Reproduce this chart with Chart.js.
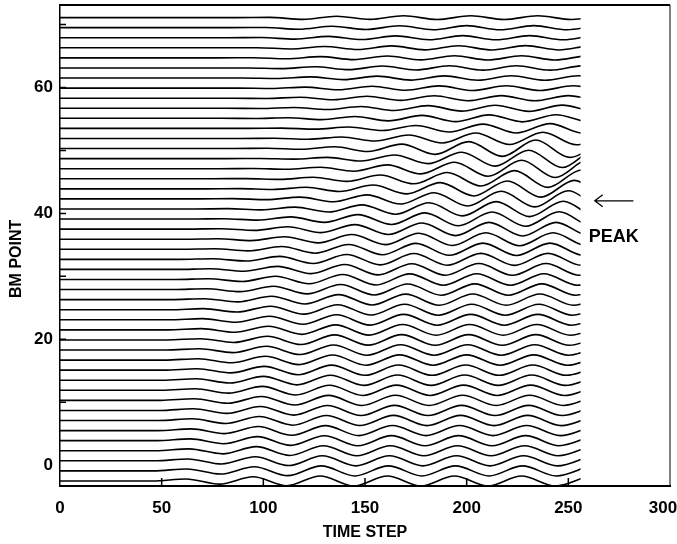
<!DOCTYPE html>
<html>
<head>
<meta charset="utf-8">
<script src="https://cdn.jsdelivr.net/npm/chart.js@4/dist/chart.umd.min.js"></script>
<style>
  html, body { margin: 0; padding: 0; background: #fff; }
  #wrap { width: 677px; height: 544px; }
</style>
</head>
<body>
<div id="wrap"><canvas id="bmChart" width="677" height="544"></canvas></div>
<script>
// BM point (resting offset) of each trace, bottom to top
var bmPoints = [-2.5, -0.9, 0.7, 2.3, 3.9, 5.5, 7.1, 8.7, 10.3, 11.9, 13.5, 15.1, 16.7, 18.3, 19.9, 21.5,
  23.1, 24.7, 26.3, 27.9, 29.5, 31.1, 32.7, 34.3, 35.9, 37.5, 39.1, 40.7, 42.3, 43.9, 45.5, 47.1,
  48.7, 50.3, 51.9, 53.5, 55.1, 56.7, 58.3, 59.9, 61.5, 63.1, 64.7, 66.3, 67.9, 69.5, 71.1];

// time step of the first turning point of each trace
var firstTurn = [62, 62.5, 63, 63.5, 64, 64.5, 65, 65.5, 66, 66.5, 67, 67.5, 68, 68.5, 69, 69.5,
  70, 70.5, 71, 72, 73, 74, 75, 76, 77.5, 79, 80.5, 82.5, 85, 88, 91.5, 95,
  98.5, 69, 72.5, 76, 79, 82, 85, 87.5, 90, 92.5, 95, 97, 99, 101, 103];

var halfCycle = 16.5;   // time steps between a crest and the next trough
var lastStep = 256;

// displacement at the successive turning points of each trace
var swings = [
  [0.32, -0.5, 0.66, -0.76, 0.8, -0.8, 0.8, -0.8, 0.8, -0.8, 0.8, -0.8, 0.8],
  [0.31, -0.5, 0.66, -0.76, 0.8, -0.8, 0.8, -0.8, 0.8, -0.8, 0.8, -0.8, 0.8],
  [0.3, -0.5, 0.65, -0.75, 0.8, -0.8, 0.8, -0.8, 0.8, -0.8, 0.8, -0.8, 0.8],
  [0.3, -0.49, 0.65, -0.75, 0.79, -0.8, 0.8, -0.8, 0.8, -0.8, 0.8, -0.8, 0.8],
  [0.29, -0.48, 0.64, -0.75, 0.79, -0.8, 0.8, -0.8, 0.8, -0.8, 0.8, -0.8, 0.8],
  [0.28, -0.48, 0.64, -0.74, 0.79, -0.8, 0.8, -0.8, 0.8, -0.8, 0.8, -0.8, 0.8],
  [0.28, -0.47, 0.63, -0.74, 0.79, -0.8, 0.81, -0.81, 0.81, -0.81, 0.81, -0.81, 0.81],
  [0.27, -0.47, 0.63, -0.74, 0.79, -0.81, 0.81, -0.81, 0.81, -0.81, 0.81, -0.81, 0.81],
  [0.26, -0.46, 0.62, -0.74, 0.79, -0.81, 0.81, -0.81, 0.81, -0.81, 0.81, -0.81, 0.81],
  [0.25, -0.45, 0.62, -0.74, 0.8, -0.82, 0.82, -0.82, 0.82, -0.82, 0.82, -0.82, 0.82],
  [0.24, -0.44, 0.61, -0.73, 0.8, -0.82, 0.82, -0.82, 0.82, -0.82, 0.82, -0.82, 0.82],
  [0.23, -0.43, 0.6, -0.73, 0.8, -0.82, 0.82, -0.82, 0.82, -0.82, 0.82, -0.82, 0.82],
  [0.22, -0.42, 0.6, -0.72, 0.8, -0.82, 0.83, -0.83, 0.83, -0.83, 0.83, -0.83, 0.83],
  [0.21, -0.41, 0.59, -0.72, 0.8, -0.83, 0.83, -0.83, 0.83, -0.83, 0.83, -0.83, 0.83],
  [0.2, -0.4, 0.58, -0.72, 0.8, -0.83, 0.84, -0.84, 0.84, -0.84, 0.84, -0.84, 0.84],
  [0.19, -0.39, 0.57, -0.71, 0.8, -0.84, 0.85, -0.85, 0.85, -0.85, 0.85, -0.85, 0.85],
  [0.18, -0.38, 0.56, -0.71, 0.8, -0.84, 0.86, -0.86, 0.86, -0.86, 0.86, -0.86, 0.86],
  [0.17, -0.37, 0.56, -0.7, 0.8, -0.85, 0.87, -0.87, 0.87, -0.87, 0.87, -0.87, 0.87],
  [0.15, -0.35, 0.55, -0.7, 0.8, -0.86, 0.88, -0.89, 0.89, -0.89, 0.89, -0.89, 0.89],
  [0.14, -0.33, 0.53, -0.69, 0.8, -0.86, 0.89, -0.9, 0.9, -0.9, 0.9, -0.9, 0.9],
  [0.12, -0.31, 0.51, -0.68, 0.8, -0.87, 0.9, -0.91, 0.91, -0.91, 0.91, -0.91, 0.91],
  [0.11, -0.29, 0.49, -0.67, 0.79, -0.87, 0.91, -0.92, 0.93, -0.93, 0.93, -0.93, 0.93],
  [0.1, -0.27, 0.47, -0.65, 0.78, -0.87, 0.92, -0.94, 0.95, -0.95, 0.95, -0.95, 0.95],
  [0.09, -0.25, 0.44, -0.62, 0.77, -0.87, 0.93, -0.96, 0.98, -0.98, 0.98, -0.98, 0.98],
  [0.08, -0.22, 0.4, -0.58, 0.74, -0.86, 0.95, -1.0, 1.02, -1.03, 1.03, -1.03, 1.03],
  [0.07, -0.2, 0.37, -0.55, 0.72, -0.86, 0.97, -1.03, 1.07, -1.08, 1.08, -1.08, 1.08],
  [0.06, -0.17, 0.34, -0.52, 0.7, -0.86, 0.98, -1.07, 1.12, -1.14, 1.15, -1.15, 1.15],
  [0.05, -0.14, 0.3, -0.48, 0.66, -0.84, 0.99, -1.1, 1.17, -1.21, 1.22, -1.22, 1.22],
  [0.04, -0.12, 0.28, -0.46, 0.64, -0.82, 0.98, -1.12, 1.22, -1.27, 1.29, -1.29, 1.29],
  [0.04, -0.11, 0.25, -0.43, 0.61, -0.8, 0.98, -1.13, 1.25, -1.32, 1.35, -1.35, 1.35],
  [0.03, -0.1, 0.23, -0.41, 0.6, -0.8, 0.99, -1.16, 1.29, -1.37, 1.4, -1.4, 1.4],
  [0.03, -0.1, 0.22, -0.4, 0.6, -0.82, 1.02, -1.2, 1.33, -1.41, 1.45, -1.45, 1.45],
  [0.02, -0.08, 0.2, -0.38, 0.58, -0.8, 1.02, -1.2, 1.34, -1.42, 1.45, -1.45, 1.45],
  [0, 0, 0.04, -0.12, 0.28, -0.48, 0.7, -0.92, 1.1, -1.25, 1.35, -1.4, 1.4],
  [0, 0, 0.04, -0.12, 0.24, -0.4, 0.56, -0.72, 0.86, -0.96, 1.0, -1.0, 1.0],
  [0, 0, 0.05, -0.12, 0.22, -0.34, 0.46, -0.58, 0.68, -0.74, 0.76, -0.76, 0.76],
  [0, -0.03, 0.1, -0.2, 0.3, -0.4, 0.47, -0.52, 0.55, -0.56, 0.56, -0.56, 0.56],
  [0, -0.04, 0.12, -0.2, 0.28, -0.36, 0.42, -0.46, 0.48, -0.5, 0.5, -0.5, 0.5],
  [0, -0.05, 0.15, -0.25, 0.3, -0.35, 0.38, -0.4, 0.4, -0.4, 0.4, -0.4, 0.4],
  [0, -0.06, 0.16, -0.26, 0.3, -0.34, 0.36, -0.38, 0.38, -0.38, 0.38, -0.38, 0.38],
  [0, -0.08, 0.18, -0.26, 0.3, -0.33, 0.35, -0.36, 0.36, -0.36, 0.36, -0.36, 0.36],
  [0, -0.1, 0.2, -0.27, 0.3, -0.32, 0.34, -0.35, 0.35, -0.35, 0.35, -0.35, 0.35],
  [0.02, -0.14, 0.2, -0.27, 0.3, -0.32, 0.34, -0.34, 0.34, -0.34, 0.34, -0.34, 0.34],
  [0.02, -0.18, 0.2, -0.27, 0.3, -0.32, 0.33, -0.34, 0.34, -0.34, 0.34, -0.34, 0.34],
  [0.03, -0.22, 0.22, -0.28, 0.3, -0.32, 0.33, -0.33, 0.33, -0.33, 0.33, -0.33, 0.33],
  [0.03, -0.25, 0.22, -0.28, 0.3, -0.32, 0.32, -0.32, 0.32, -0.32, 0.32, -0.32, 0.32],
  [0.03, -0.28, 0.22, -0.28, 0.3, -0.3, 0.3, -0.3, 0.3, -0.3, 0.3, -0.3, 0.3]
];

var timeTicks = [50, 100, 150, 200, 250];
var pointTicks = [10, 20, 30, 40, 50, 60, 70];
var peakPoint = 42;

var datasets = bmPoints.map(function(base, i) {
    var pts = [{x: 0, y: base}, {x: firstTurn[i] - halfCycle, y: base}];
    swings[i].forEach(function(v, k) {
        pts.push({x: firstTurn[i] + k * halfCycle, y: base + v});
    });
    return {
        data: pts,
        borderColor: '#000',
        borderWidth: 1.6,
        pointRadius: 0,
        fill: false,
        cubicInterpolationMode: 'monotone'
    };
});

var boldFont = {family: "'Liberation Sans', Arial, sans-serif", weight: 'bold', size: 17};
var titleFont = {family: "'Liberation Sans', Arial, sans-serif", weight: 'bold', size: 16};

var framePlugin = {
    id: 'frame',
    beforeDatasetsDraw: function(chart) {
        var a = chart.chartArea, ctx = chart.ctx;
        ctx.save();
        ctx.beginPath();
        ctx.rect(a.left, a.top, chart.scales.x.getPixelForValue(lastStep) - a.left, a.bottom - a.top);
        ctx.clip();
    },
    afterDatasetsDraw: function(chart) {
        chart.ctx.restore();
    },
    afterDraw: function(chart) {
        var a = chart.chartArea, ctx = chart.ctx;
        var xs = chart.scales.x, ys = chart.scales.y;
        ctx.save();
        ctx.strokeStyle = '#000';
        ctx.lineWidth = 2;
        ctx.beginPath();
        ctx.moveTo(a.left, a.top);
        ctx.lineTo(a.right, a.top);
        ctx.stroke();
        ctx.lineWidth = 1;
        ctx.beginPath();
        ctx.moveTo(a.right, a.top);
        ctx.lineTo(a.right, a.bottom);
        ctx.stroke();

        // small inward tick marks
        ctx.lineWidth = 1.5;
        ctx.beginPath();
        timeTicks.forEach(function(t) {
            var px = xs.getPixelForValue(t);
            ctx.moveTo(px, a.bottom);
            ctx.lineTo(px, a.bottom - 8);
        });
        pointTicks.forEach(function(p) {
            var py = ys.getPixelForValue(p);
            ctx.moveTo(a.left, py);
            ctx.lineTo(a.left + 6, py);
        });
        ctx.stroke();

        // PEAK marker
        var py = ys.getPixelForValue(peakPoint);
        var x1 = xs.getPixelForValue(263), x2 = xs.getPixelForValue(282);
        ctx.lineWidth = 1.3;
        ctx.beginPath();
        ctx.moveTo(x2, py);
        ctx.lineTo(x1, py);
        ctx.moveTo(x1 + 8, py - 6);
        ctx.lineTo(x1, py);
        ctx.lineTo(x1 + 8, py + 6);
        ctx.stroke();
        ctx.fillStyle = '#000';
        ctx.font = "bold 18px 'Liberation Sans', Arial, sans-serif";
        ctx.textAlign = 'left';
        ctx.textBaseline = 'middle';
        ctx.fillText('PEAK', xs.getPixelForValue(260), ys.getPixelForValue(36.2));
        ctx.restore();
    }
};

new Chart(document.getElementById('bmChart').getContext('2d'), {
    type: 'line',
    data: {datasets: datasets},
    options: {
        responsive: false,
        animation: false,
        layout: {padding: {top: 5, right: 7, left: 0, bottom: 0}},
        plugins: {legend: {display: false}, tooltip: {enabled: false}},
        scales: {
            x: {
                type: 'linear',
                min: 0,
                max: 300,
                border: {display: true, color: '#000', width: 2},
                grid: {display: false, drawTicks: false},
                ticks: {
                    stepSize: 50, color: '#000', font: boldFont, padding: 12, maxRotation: 0, autoSkip: false,
                    // last label nudged left so it stays on the page
                    callback: function(v) { return v === 300 ? '300   ' : String(v); }
                },
                title: {display: true, text: 'TIME STEP', color: '#000', font: titleFont, padding: {top: 0, bottom: 2}},
                afterFit: function(s) { s.height = 58; s.paddingLeft = 0; s.paddingRight = 0; }
            },
            y: {
                type: 'linear',
                min: -3.3,
                max: 73.1,
                border: {display: true, color: '#000', width: 1.5},
                grid: {display: false, drawTicks: false},
                ticks: {
                    stepSize: 10, color: '#000', font: boldFont, padding: 7, autoSkip: false,
                    callback: function(v) { return v % 20 === 0 ? String(v) : ''; }
                },
                title: {display: true, text: 'BM POINT      ', color: '#000', font: titleFont, padding: {top: 7, bottom: 0}},
                afterFit: function(s) { s.width = 60; s.paddingTop = 0; s.paddingBottom = 0; }
            }
        }
    },
    plugins: [framePlugin]
});
</script>
</body>
</html>
